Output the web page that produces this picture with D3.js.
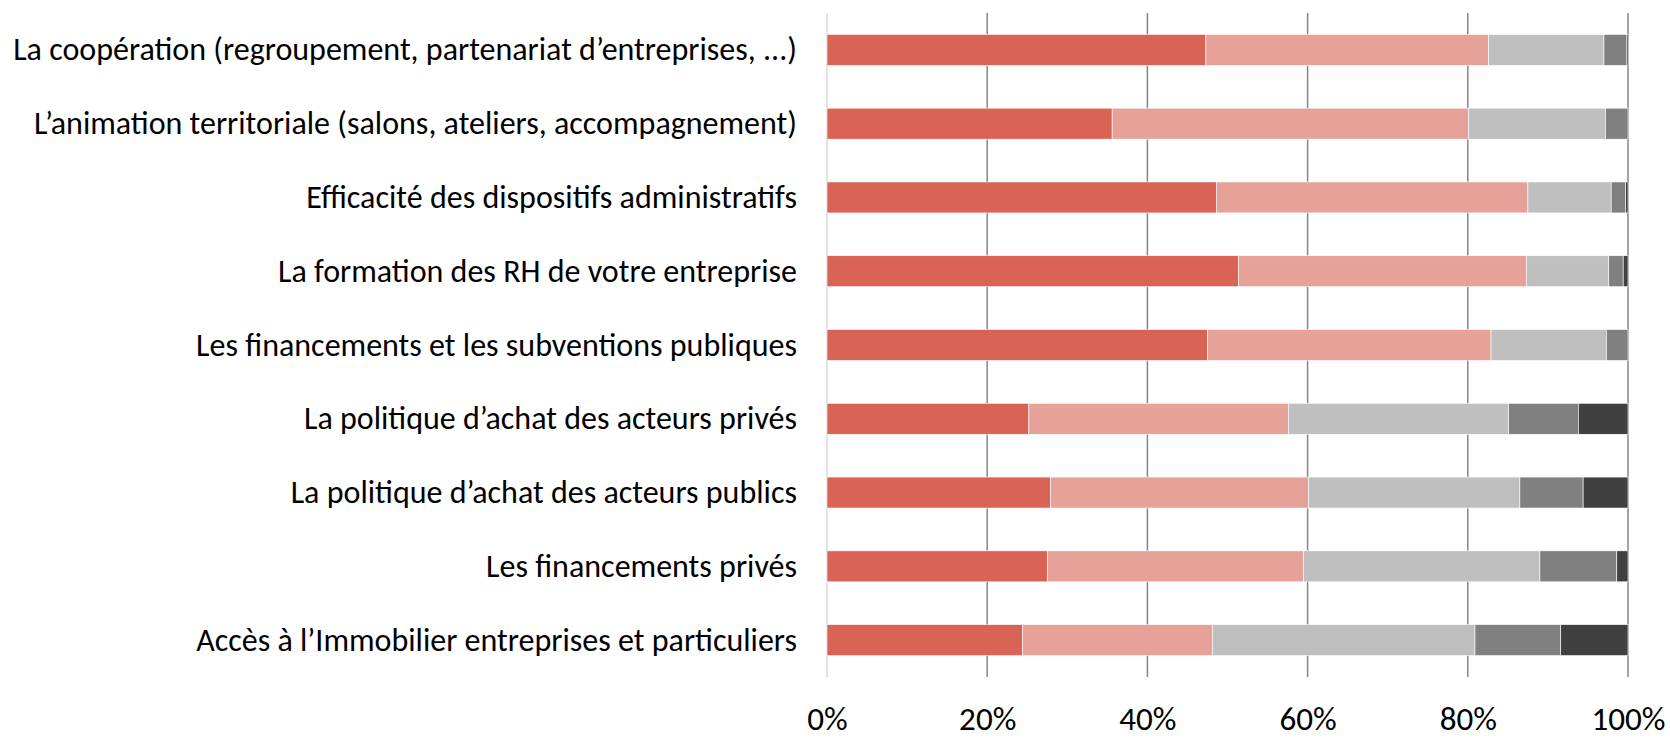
<!DOCTYPE html>
<html>
<head>
<meta charset="utf-8">
<script src="https://cdn.jsdelivr.net/npm/d3@7"></script>
<style>
  html, body { margin: 0; padding: 0; background: #fff; }
  svg { display: block; }
  text { font-family: Carlito, Lato, "Open Sans", sans-serif; fill: #000; }
</style>
</head>
<body>
<svg id="chart" width="1670" height="738"></svg>
<script>
// Survey categories, top to bottom
const categories = [
  "La coopération (regroupement, partenariat d’entreprises, ...)",
  "L’animation territoriale (salons, ateliers, accompagnement)",
  "Efficacité des dispositifs administratifs",
  "La formation des RH de votre entreprise",
  "Les financements et les subventions publiques",
  "La politique d’achat des acteurs privés",
  "La politique d’achat des acteurs publics",
  "Les financements privés",
  "Accès à l’Immobilier entreprises et particuliers"
];

// Share of answers (%) for each of the five response levels
const level1 = [47.3, 35.6, 48.6, 51.4, 47.5, 25.2, 27.9, 27.5, 24.4];
const level2 = [35.3, 44.5, 38.9, 35.9, 35.4, 32.4, 32.2, 32.0, 23.7];
const level3 = [14.4, 17.1, 10.4, 10.3, 14.4, 27.5, 26.4, 29.5, 32.8];
const level4 = [ 2.8,  2.8,  1.8,  1.8,  2.7,  8.7,  7.9,  9.6, 10.7];
const level5 = [ 0.2,  0.0,  0.3,  0.6,  0.0,  6.2,  5.6,  1.4,  8.4];

const tickValues = [0, 20, 40, 60, 80, 100];
const tickLabels = ["0%", "20%", "40%", "60%", "80%", "100%"];

const keys = ["l1", "l2", "l3", "l4", "l5"];
const colors = ["#D96455", "#E6A299", "#BFBFBF", "#808080", "#404040"];

const rows = categories.map((c, i) => ({
  cat: c, l1: level1[i], l2: level2[i], l3: level3[i], l4: level4[i], l5: level5[i]
}));
// normalise each row to 100 %
rows.forEach(r => {
  const t = keys.reduce((s, k) => s + r[k], 0);
  keys.forEach(k => r[k] = r[k] / t * 100);
});

const svg = d3.select("#chart");
const plot = { left: 827, right: 1628, top: 13, bottom: 677 };

const x = d3.scaleLinear().domain([0, 100]).range([plot.left, plot.right]);
const y = d3.scaleBand().domain(categories).range([plot.top, plot.bottom]).paddingInner(0.58).paddingOuter(0.29);

// vertical gridlines
svg.append("g")
  .selectAll("line")
  .data(tickValues.filter(v => v > 0))
  .join("line")
  .attr("x1", d => x(d)).attr("x2", d => x(d))
  .attr("y1", plot.top).attr("y2", plot.bottom)
  .attr("stroke", "#868686").attr("stroke-width", 1.5);

// category axis line
svg.append("line")
  .attr("x1", x(0)).attr("x2", x(0))
  .attr("y1", plot.top).attr("y2", plot.bottom)
  .attr("stroke", "#D9D9D9").attr("stroke-width", 1.5);

// stacked bars
const series = d3.stack().keys(keys)(rows);
svg.append("g")
  .selectAll("g")
  .data(series)
  .join("g")
  .attr("fill", (d, i) => colors[i])
  .selectAll("rect")
  .data(d => d)
  .join("rect")
  .attr("x", d => x(d[0]))
  .attr("y", d => y(d.data.cat))
  .attr("width", d => Math.max(0, x(d[1]) - x(d[0])))
  .attr("height", y.bandwidth())
  .attr("stroke", "#fff")
  .attr("stroke-width", 0.6);

// category labels, sized so the longest one spans the label column
const labels = svg.append("g").selectAll("text")
  .data(categories)
  .join("text")
  .attr("x", 797)
  .attr("y", d => y(d) + y.bandwidth() / 2)
  .attr("text-anchor", "end")
  .attr("dominant-baseline", "central")
  .attr("font-size", 28)
  .text(d => d);
const widest = d3.max(labels.nodes(), n => n.getComputedTextLength());
labels.attr("font-size", 28 * 784 / widest);

// percentage axis
const xAxis = d3.axisBottom(x).tickValues(tickValues).tickSize(0).tickFormat((d, i) => tickLabels[i]);
const ag = svg.append("g").attr("transform", `translate(0, ${plot.bottom})`).call(xAxis);
ag.select(".domain").remove();
const tickText = ag.selectAll("text")
  .attr("font-size", 28)
  .attr("font-family", "Carlito, Lato, 'Open Sans', sans-serif")
  .attr("fill", "#000")
  .attr("dy", 0)
  .attr("y", 53)
  .attr("dominant-baseline", "alphabetic");
const w100 = d3.max(tickText.nodes(), n => n.getComputedTextLength());
tickText.attr("font-size", 28 * 74 / w100);
</script>
</body>
</html>
